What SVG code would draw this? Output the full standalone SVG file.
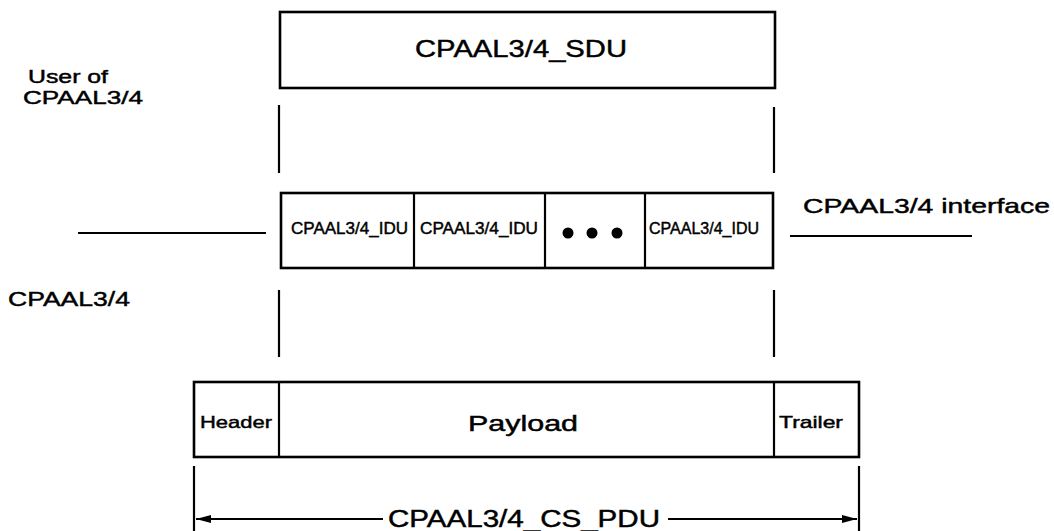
<svg xmlns="http://www.w3.org/2000/svg" width="1054" height="531" viewBox="0 0 1054 531">
<style>
.box{fill:#fff;stroke:#000;stroke-width:2.6}
.ln{stroke:#000;stroke-width:2.2;fill:none}
.t{font-family:"Liberation Sans",Arial,sans-serif;fill:#000;stroke:#000;stroke-width:0.45}
</style>
<defs>
<marker id="ah" markerWidth="16" markerHeight="10" refX="15" refY="5" orient="auto-start-reverse" markerUnits="userSpaceOnUse">
<path d="M0,1 L15,5 L0,9 Z" fill="#000"/>
</marker>
</defs>
<rect width="1054" height="531" fill="#fff"/>
<g id="labels">
<text class="t" x="28" y="83" font-size="18" textLength="80" lengthAdjust="spacingAndGlyphs">User of</text>
<text class="t" x="23" y="104" font-size="19" textLength="120" lengthAdjust="spacingAndGlyphs">CPAAL3/4</text>
<text class="t" x="803" y="213" font-size="21" textLength="247" lengthAdjust="spacingAndGlyphs">CPAAL3/4 interface</text>
<text class="t" x="8" y="306" font-size="21" textLength="122" lengthAdjust="spacingAndGlyphs">CPAAL3/4</text>
</g>
<g id="sdu">
<rect class="box" x="280" y="12" width="495" height="76"/>
<text class="t" x="415" y="57" font-size="24" textLength="212" lengthAdjust="spacingAndGlyphs">CPAAL3/4_SDU</text>
</g>
<g id="idu-row">
<rect class="box" x="281" y="193" width="492" height="75"/>
<line class="ln" x1="414" y1="193" x2="414" y2="268"/>
<line class="ln" x1="545" y1="193" x2="545" y2="268"/>
<line class="ln" x1="645" y1="193" x2="645" y2="268"/>
<text class="t" x="291" y="234" font-size="17" textLength="117" lengthAdjust="spacingAndGlyphs">CPAAL3/4_IDU</text>
<text class="t" x="420" y="234" font-size="17" textLength="118" lengthAdjust="spacingAndGlyphs">CPAAL3/4_IDU</text>
<circle cx="568" cy="233" r="5.5"/>
<circle cx="592" cy="233" r="5.5"/>
<circle cx="617" cy="233" r="5.5"/>
<text class="t" x="649" y="234" font-size="17" textLength="110" lengthAdjust="spacingAndGlyphs">CPAAL3/4_IDU</text>
</g>
<g id="cs-pdu">
<rect class="box" x="194" y="382" width="665" height="75"/>
<line class="ln" x1="279" y1="382" x2="279" y2="457"/>
<line class="ln" x1="774" y1="382" x2="774" y2="457"/>
<text class="t" x="200" y="428" font-size="17" textLength="72" lengthAdjust="spacingAndGlyphs">Header</text>
<text class="t" x="468" y="431" font-size="22" textLength="110" lengthAdjust="spacingAndGlyphs">Payload</text>
<text class="t" x="779" y="428" font-size="17" textLength="64" lengthAdjust="spacingAndGlyphs">Trailer</text>
</g>
<g id="connectors">
<line class="ln" x1="279" y1="105" x2="279" y2="173"/>
<line class="ln" x1="774" y1="107" x2="774" y2="173"/>
<line class="ln" x1="78" y1="233" x2="266" y2="233"/>
<line class="ln" x1="790" y1="236" x2="972" y2="236"/>
<line class="ln" x1="279" y1="290" x2="279" y2="357"/>
<line class="ln" x1="774" y1="290" x2="774" y2="357"/>
<line class="ln" x1="194" y1="466" x2="194" y2="531"/>
<line class="ln" x1="859" y1="466" x2="859" y2="531"/>
<line class="ln" x1="383" y1="519" x2="196" y2="519" marker-end="url(#ah)"/>
<line class="ln" x1="668" y1="519" x2="857" y2="519" marker-end="url(#ah)"/>
<text class="t" x="388" y="527" font-size="23" textLength="272" lengthAdjust="spacingAndGlyphs">CPAAL3/4_CS_PDU</text>
</g>
</svg>
